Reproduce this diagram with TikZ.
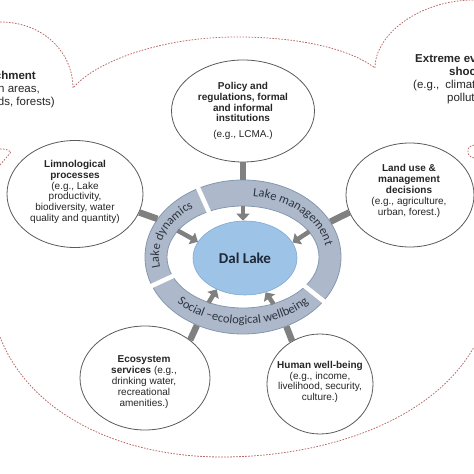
\documentclass[tikz,border=0pt]{standalone}
\usepackage{fontspec}
\setmainfont{Liberation Sans}
\newfontfamily\ringfont{Carlito}
\usetikzlibrary{arrows.meta,shapes.geometric,decorations.text}

\definecolor{ringfill}{RGB}{173,185,202}
\definecolor{ringline}{RGB}{132,151,176}
\definecolor{lakefill}{RGB}{157,195,230}
\definecolor{lakeline}{RGB}{127,169,214}
\definecolor{linkgray}{RGB}{128,128,128}
\definecolor{ellgray}{RGB}{90,90,90}
\definecolor{cloudred}{RGB}{185,105,105}
\definecolor{ringtext}{RGB}{45,52,65}
\definecolor{laketext}{RGB}{30,40,55}

\begin{document}
\begin{tikzpicture}[x=1pt, y=1pt,
  factor/.style={ellipse, draw=ellgray, line width=0.8pt, fill=white, inner sep=0pt},
  ftext/.style={align=center, text=black!85, font=\fontsize{10}{10.8}\selectfont},
  side/.style={text=black!85, font=\fontsize{11.5}{13}\selectfont, inner sep=0pt},
  link/.style={draw=linkgray, line width=6.5pt},
  push/.style={draw=linkgray, line width=4.5pt, -{Triangle[length=7pt,width=13pt]}},
  cloud/.style={draw=cloudred, line width=0.8pt, dash pattern=on 1.6pt off 1.4pt},
  gap/.style={draw=white, line width=4.5pt},
  ringlabel/.style={decorate, decoration={text along path, text align=center,
    text={|\ringfont\fontsize{12.5}{14}\selectfont\color{ringtext}|#1}}}
]
\useasboundingbox (0,0) rectangle (474,474);

% dashed outline
\draw[cloud] (0,452) .. controls (45,452) and (73,420) .. (73,386)
  .. controls (95,412) and (160,437) .. (237,437)
  .. controls (300,437) and (350,425) .. (375,406)
  .. controls (375,440) and (420,474) .. (474,474);
\draw[cloud] (0,325) .. controls (6,325) .. (11,322) .. controls (6,316) .. (0,309);
\draw[cloud] (474,329) .. controls (468,327) .. (468,321) .. controls (469,318) .. (474,316);
\draw[cloud] (0,137) .. controls (30,60) and (120,17) .. (222,17)
  .. controls (320,17) and (430,50) .. (474,127);

% ring
\node[ellipse, fill=ringfill, draw=ringline, line width=0.8pt, minimum width=196pt,
  minimum height=154pt, inner sep=0pt] (ring) at (243,217) {};
\node[ellipse, fill=white, draw=ringline, line width=0.8pt, minimum width=152pt,
  minimum height=102pt, inner sep=0pt] (ringin) at (243,217) {};
\foreach \a in {117,202,-35}
  \draw[gap] ([shift={(ring.center)}]\a:73pt and 48pt) -- ([shift={(ring.center)}]\a:101pt and 80pt);

\node[ellipse, fill=lakefill, draw=lakeline, line width=0.6pt, minimum width=104pt,
  minimum height=74pt, inner sep=0pt, text=laketext,
  font=\ringfont\bfseries\fontsize{15}{17}\selectfont] (lake) at (245,216) {Dal Lake};

\path[ringlabel={Lake dynamics}] ([shift={(ring.center)}]200:84pt and 61pt)
  arc[start angle=200, end angle=118, x radius=84pt, y radius=61pt];
\path[ringlabel={Lake management}] ([shift={(ring.center)}]112:84pt and 61pt)
  arc[start angle=112, end angle=-28, x radius=84pt, y radius=61pt];
\path[ringlabel={Social –ecological wellbeing}] ([shift={(ring.center)}]205:90pt and 67pt)
  arc[start angle=205, end angle=335, x radius=90pt, y radius=67pt];

% factors
\node[factor, minimum width=143pt, minimum height=102pt] (policy) at (243,363) {};
\node[factor, minimum width=136pt, minimum height=107pt] (limno) at (75,280) {};
\node[factor, minimum width=128pt, minimum height=104pt] (land) at (410,279) {};
\node[factor, minimum width=130pt, minimum height=104pt] (eco) at (145,96) {};
\node[factor, minimum width=106pt, minimum height=100pt] (human) at (320,90) {};

\draw[link] (policy.south) -- (ring.north);
\draw[link] (limno.-16) -- (ring.156);
\draw[link] (land.196) -- (ring.22);
\draw[link] (eco.40) -- (ring.236);
\draw[link] (human.123) -- (ring.302);

\draw[push] (ringin.north) -- (ringin.north |- lake.north);
\draw[push] (ringin.158) -- (lake.161);
\draw[push] (ringin.21) -- (lake.18);
\draw[push] (ringin.233) -- (lake.228);
\draw[push] (ringin.303) -- (lake.301);

\node[ftext] (policytext) at (policy) {\textbf{Policy and}\\\textbf{regulations, formal}\\
  \textbf{and informal}\\\textbf{institutions}\\[5pt](e.g., LCMA.)};
\node[ftext] (limnotext) at (75,282) {\textbf{Limnological}\\\textbf{processes}\\(e.g., Lake\\
  productivity,\\biodiversity, water\\quality and quantity)};
\node[ftext] (landtext) at (409,283) {\textbf{Land use \&}\\\textbf{management}\\
  \textbf{decisions}\\(e.g., agriculture,\\urban, forest.)};
\node[ftext] (ecotext) at (144,92) {\textbf{Ecosystem}\\\textbf{services} (e.g.,\\
  drinking water,\\recreational\\amenities.)};
\node[ftext] (humantext) at (320,92) {\textbf{Human well-being}\\(e.g., income,\\
  livelihood, security,\\culture.)};

\node[side, anchor=north east, align=right] (catchment) at (55,403)
  {\textbf{chment}\kern19pt\\ n areas,\kern15pt\\ ds, forests)};
\node[side, anchor=north west, align=left] (extreme) at (413,420)
  {\hspace*{2pt}\textbf{Extreme ev}\\ \hspace*{36pt}\textbf{shoc}\\
  (e.g.,\hspace{6pt}climat\\ \hspace*{34pt}pollut};
\end{tikzpicture}
\end{document}
